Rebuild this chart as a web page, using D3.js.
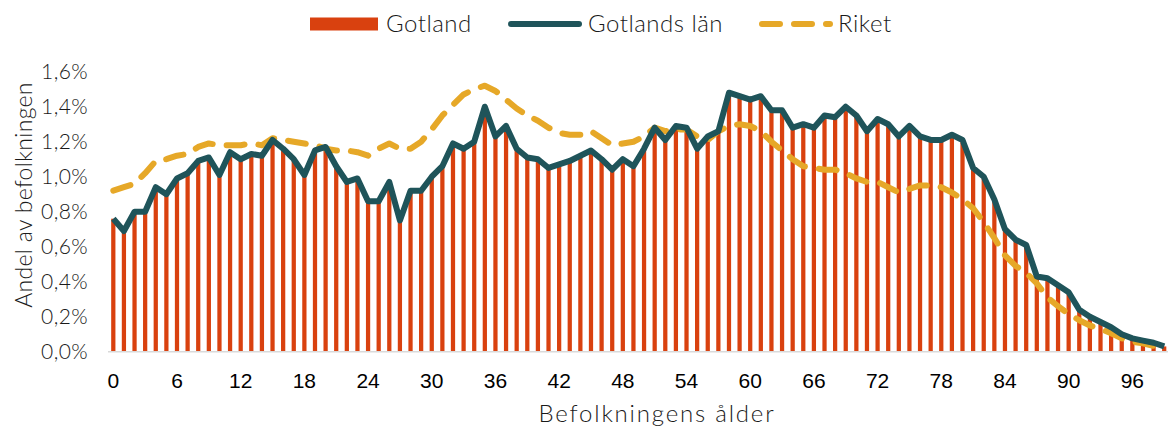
<!DOCTYPE html>
<html>
<head>
<meta charset="utf-8">
<script src="https://cdn.jsdelivr.net/npm/d3@7"></script>
<style>
  body { margin: 0; background: #fff; }
  .light { font-family: Lato, "Open Sans", sans-serif; font-weight: 300; fill: #1a1a1a; }
  .xTick text { font-family: "Liberation Sans", Arial, sans-serif; font-size: 21px; fill: #000; }
</style>
</head>
<body>
<div id="chart"></div>
<script>
// ages 0..99
const ages = d3.range(0, 100)

// Gotland (bars) and Gotlands län (line), share of population
const gotland = [
  0.76, 0.69, 0.80, 0.80, 0.94, 0.90, 0.99, 1.02, 1.09, 1.11,
  1.01, 1.14, 1.10, 1.13, 1.12, 1.21, 1.16, 1.10, 1.01, 1.15,
  1.17, 1.06, 0.97, 0.99, 0.86, 0.86, 0.97, 0.75, 0.92, 0.92,
  1.00, 1.06, 1.19, 1.16, 1.20, 1.40, 1.23, 1.29, 1.16, 1.11,
  1.10, 1.05, 1.07, 1.09, 1.12, 1.15, 1.10, 1.04, 1.10, 1.06,
  1.16, 1.28, 1.21, 1.29, 1.28, 1.16, 1.23, 1.26, 1.48, 1.46,
  1.44, 1.46, 1.38, 1.38, 1.28, 1.30, 1.28, 1.35, 1.34, 1.40,
  1.35, 1.26, 1.33, 1.30, 1.23, 1.29, 1.23, 1.21, 1.21, 1.24,
  1.21, 1.05, 1.00, 0.87, 0.70, 0.64, 0.61, 0.43, 0.42, 0.38,
  0.34, 0.24, 0.20, 0.17, 0.14, 0.10, 0.076, 0.063, 0.051, 0.03
]
const gotlandsLan = gotland.slice()

// Riket (dashed line)
const riket = [
  0.92, 0.94, 0.96, 1.02, 1.09, 1.10, 1.12, 1.13, 1.17, 1.19,
  1.18, 1.18, 1.18, 1.19, 1.18, 1.22, 1.21, 1.20, 1.19, 1.18,
  1.16, 1.15, 1.15, 1.14, 1.12, 1.16, 1.19, 1.16, 1.16, 1.20,
  1.27, 1.35, 1.41, 1.47, 1.50, 1.52, 1.49, 1.44, 1.39, 1.35,
  1.32, 1.28, 1.25, 1.24, 1.24, 1.26, 1.22, 1.18, 1.19, 1.20,
  1.23, 1.28, 1.26, 1.27, 1.27, 1.23, 1.21, 1.26, 1.29, 1.30,
  1.29, 1.26, 1.20, 1.15, 1.10, 1.06, 1.05, 1.04, 1.04, 1.02,
  0.99, 0.97, 0.97, 0.94, 0.91, 0.93, 0.95, 0.95, 0.94, 0.91,
  0.87, 0.82, 0.74, 0.65, 0.55, 0.49, 0.45, 0.39, 0.31, 0.26,
  0.215, 0.18, 0.15, 0.13, 0.105, 0.076, 0.057, 0.048, 0.033, 0.017
]

const yTicks = [0, 0.002, 0.004, 0.006, 0.008, 0.010, 0.012, 0.014, 0.016]
const xTicks = d3.range(0, 100, 6)

const width = 1168
const height = 428
const plot = { left: 108, right: 1169.5, top: 71.7, bottom: 351.7 }

const colBar = "#d9410f"
const colLan = "#1f545a"
const colRiket = "#e6a828"

const svg = d3.select("#chart")
  .append("svg")
  .attr("width", width)
  .attr("height", height)

const x = d3.scaleBand()
  .domain(ages)
  .range([plot.left, plot.right])
  .paddingInner(0.6)
  .paddingOuter(0.3)

const y = d3.scaleLinear()
  .domain([0, 0.016])
  .range([plot.bottom, plot.top])

const cx = d => x(d) + x.bandwidth() / 2

// bars
svg.append("g")
  .selectAll("rect")
  .data(ages)
  .enter()
  .append("rect")
  .attr("x", d => x(d))
  .attr("width", x.bandwidth())
  .attr("y", d => y(gotland[d] / 100))
  .attr("height", d => y(0) - y(gotland[d] / 100))
  .attr("fill", colBar)

// baseline
svg.append("line")
  .attr("x1", plot.left).attr("x2", width)
  .attr("y1", y(0)).attr("y2", y(0))
  .attr("stroke", "#d9d9d9")
  .attr("stroke-width", 1.5)

// Riket dashed line
const line = d3.line()
  .x(d => cx(d[0]))
  .y(d => y(d[1] / 100))

svg.append("path")
  .datum(ages.map(a => [a, riket[a]]))
  .attr("d", line)
  .attr("fill", "none")
  .attr("stroke", colRiket)
  .attr("stroke-width", 6)
  .attr("stroke-linecap", "round")
  .attr("stroke-linejoin", "round")
  .attr("stroke-dasharray", "18,14")

// Gotlands län line
svg.append("path")
  .datum(ages.map(a => [a, gotlandsLan[a]]))
  .attr("d", line)
  .attr("fill", "none")
  .attr("stroke", colLan)
  .attr("stroke-width", 6)
  .attr("stroke-linejoin", "round")

// y axis labels
svg.append("g")
  .selectAll("text")
  .data(yTicks)
  .enter()
  .append("text")
  .attr("class", "light")
  .attr("x", 88)
  .attr("y", d => y(d))
  .attr("dy", "0.35em")
  .attr("text-anchor", "end")
  .style("font-size", "21px")
  .style("letter-spacing", "0.4px")
  .text(d => d3.format(".1%")(d).replace(".", ","))

// x axis labels
svg.append("g")
  .attr("class", "xTick")
  .selectAll("text")
  .data(xTicks)
  .enter()
  .append("text")
  .attr("x", d => cx(d))
  .attr("y", 381)
  .attr("dy", "0.35em")
  .attr("text-anchor", "middle")
  .text(d => d)

// axis titles
svg.append("text")
  .attr("class", "light")
  .attr("transform", "translate(24,195)rotate(-90)")
  .attr("dy", "0.35em")
  .attr("text-anchor", "middle")
  .style("font-size", "23px")
  .style("letter-spacing", "0.3px")
  .text("Andel av befolkningen")

svg.append("text")
  .attr("class", "light")
  .attr("x", 657)
  .attr("y", 414)
  .attr("dy", "0.35em")
  .attr("text-anchor", "middle")
  .style("font-size", "24px")
  .style("letter-spacing", "1.8px")
  .text("Befolkningens ålder")

// legend
const legY = 24
const leg = svg.append("g")
  .style("font-size", "24px")
  .style("letter-spacing", "0.5px")

leg.append("rect")
  .attr("x", 310).attr("y", legY - 6.5)
  .attr("width", 68).attr("height", 13)
  .attr("fill", colBar)
leg.append("text")
  .attr("class", "light")
  .attr("x", 386).attr("y", legY).attr("dy", "0.35em")
  .text("Gotland")

leg.append("line")
  .attr("x1", 511).attr("x2", 579)
  .attr("y1", legY).attr("y2", legY)
  .attr("stroke", colLan).attr("stroke-width", 6)
  .attr("stroke-linecap", "round")
leg.append("text")
  .attr("class", "light")
  .attr("x", 588).attr("y", legY).attr("dy", "0.35em")
  .text("Gotlands län")

leg.append("line")
  .attr("x1", 762).attr("x2", 830)
  .attr("y1", legY).attr("y2", legY)
  .attr("stroke", colRiket).attr("stroke-width", 6)
  .attr("stroke-linecap", "round")
  .attr("stroke-dasharray", "18,14")
leg.append("text")
  .attr("class", "light")
  .attr("x", 838).attr("y", legY).attr("dy", "0.35em")
  .text("Riket")
</script>
</body>
</html>
